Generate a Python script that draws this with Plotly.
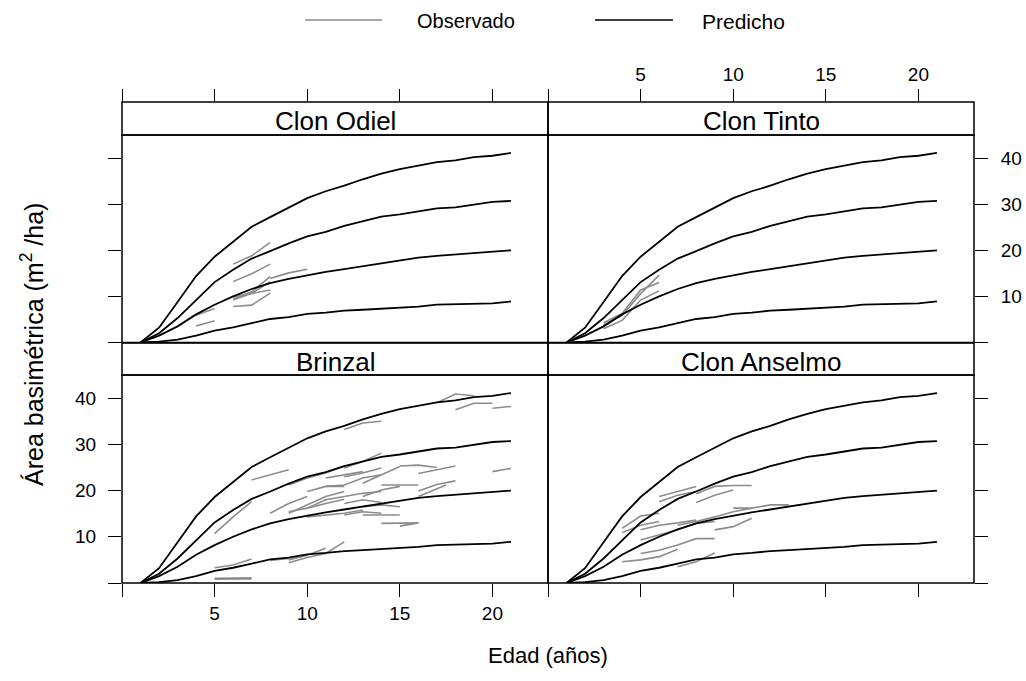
import plotly.graph_objects as go

W, H = 1026, 681
FONT = "Arial, Liberation Sans, sans-serif"

# Predicted basal-area curves (same family of curves in every panel)
edad = list(range(1, 22))
pred_alto = [0, 3.2, 8.8, 14.4, 18.6, 21.9, 25.1, 27.2, 29.3, 31.3, 32.8,
             34.0, 35.4, 36.6, 37.6, 38.3, 39.1, 39.5, 40.2, 40.5, 41.1]
pred_medio_alto = [0, 2.0, 5.3, 9.2, 13.1, 15.8, 18.2, 19.8, 21.5, 23.0, 24.0,
                   25.3, 26.3, 27.3, 27.8, 28.4, 29.1, 29.3, 29.9, 30.5, 30.7]
pred_medio = [0, 1.5, 3.5, 6.1, 8.2, 10.0, 11.6, 12.9, 13.8, 14.6, 15.3,
              15.9, 16.5, 17.2, 17.8, 18.4, 18.8, 19.1, 19.4, 19.7, 20.0]
pred_bajo = [0, 0.2, 0.6, 1.5, 2.6, 3.3, 4.2, 5.1, 5.5, 6.2, 6.5,
             6.9, 7.1, 7.3, 7.5, 7.8, 8.2, 8.3, 8.5, 8.5, 8.9]

# Observed plot trajectories: (ages, basal area) per plot
obs_odiel = [
    ([6, 7, 8], [17.0, 18.8, 21.7]),
    ([6, 7, 8], [13.2, 14.9, 17.0]),
    ([6, 7, 8], [9.4, 11.0, 14.3]),
    ([6, 7, 8], [9.9, 10.7, 11.4]),
    ([6, 7, 8], [7.8, 8.1, 10.7]),
    ([6, 7, 8], [9.2, 10.7, 13.2]),
    ([8, 9, 10], [13.9, 15.1, 15.9]),
    ([4, 5], [3.6, 4.7]),
    ([4, 5], [5.9, 7.4]),
]
obs_tinto = [
    ([3, 4, 5, 6], [4.3, 6.3, 11.4, 13.0]),
    ([3, 4, 5, 6], [3.0, 4.8, 9.2, 11.2]),
    ([3, 4, 5, 6], [3.8, 5.9, 10.6, 14.6]),
]
obs_brinzal = [
    ([5, 7], [1.0, 1.1]),
    ([5, 7], [0.8, 0.9]),
    ([5, 6, 7], [3.3, 3.9, 5.2]),
    ([9, 10, 11, 12], [4.4, 5.5, 6.4, 8.9]),
    ([9, 10, 11], [5.0, 6.0, 7.5]),
    ([8, 9], [4.9, 5.3]),
    ([5, 6, 7], [10.7, 14.3, 17.6]),
    ([7, 9], [22.3, 24.5]),
    ([12, 13, 14], [33.2, 34.6, 35.0]),
    ([17, 18, 19], [39.0, 40.9, 40.5]),
    ([18, 19, 20], [37.5, 38.9, 38.9]),
    ([20, 21], [37.8, 38.2]),
    ([16, 18], [23.7, 25.3]),
    ([16, 17, 18], [19.9, 21.3, 22.1]),
    ([20, 21], [24.1, 24.8]),
    ([15, 16, 17], [25.3, 25.5, 25.0]),
    ([14, 16], [21.2, 21.2]),
    ([14, 15, 16], [12.9, 13.0, 13.0]),
    ([15, 16], [12.3, 13.0]),
    ([16, 17.5], [18.7, 21.2]),
    ([9, 10, 11, 12], [21.2, 22.7, 23.8, 25.3]),
    ([9, 10, 11, 12], [15.1, 16.9, 18.7, 19.8]),
    ([8, 9, 10], [15.1, 17.2, 18.7]),
    ([9, 10, 11, 12], [15.4, 16.2, 17.2, 18.1]),
    ([10, 11, 12, 13], [14.3, 14.7, 15.1, 15.8]),
    ([10, 11, 12, 13, 14], [16.2, 18.0, 18.7, 19.4, 19.8]),
    ([11, 12, 13, 14], [20.9, 21.2, 22.7, 23.4]),
    ([12, 13, 14], [23.0, 23.8, 24.9]),
    ([12, 13, 14], [24.9, 26.3, 28.1]),
    ([13, 14, 15], [21.6, 23.4, 25.2]),
    ([13, 14, 15], [18.7, 20.1, 20.9]),
    ([12, 13, 14], [17.2, 18.0, 17.4]),
    ([13, 14, 15], [16.5, 16.9, 16.5]),
    ([12, 13, 14], [14.7, 15.4, 15.1]),
    ([13, 14, 15], [14.7, 14.7, 14.7]),
    ([10, 11, 12], [19.8, 20.9, 20.9]),
    ([11, 12, 13], [22.7, 23.4, 24.1]),
]
obs_anselmo = [
    ([6, 7, 8], [18.7, 19.8, 20.9]),
    ([6, 7, 8], [17.6, 19.0, 19.8]),
    ([8, 9, 10, 11], [19.3, 20.9, 21.1, 21.1]),
    ([8, 9, 10], [17.4, 19.0, 20.1]),
    ([4, 5, 6], [11.8, 14.5, 15.1]),
    ([4, 5, 6], [10.9, 12.5, 13.3]),
    ([5, 6, 7, 8], [11.5, 12.5, 13.0, 13.6]),
    ([5, 6, 7, 8, 9], [9.3, 10.4, 11.5, 12.9, 13.3]),
    ([7, 8, 9, 10, 11], [12.5, 13.3, 14.3, 15.4, 16.2]),
    ([10, 11, 12, 13], [16.2, 16.2, 16.9, 16.9]),
    ([9, 10, 11], [11.5, 12.2, 14.0]),
    ([4, 5, 6, 7], [4.6, 5.0, 5.7, 7.3]),
    ([5, 6, 7, 8, 9], [6.4, 7.1, 8.2, 9.6, 9.6]),
    ([7, 8, 9], [3.5, 4.6, 6.5]),
]

paneles = ["Clon Odiel", "Clon Tinto", "Brinzal", "Clon Anselmo"]
observados = [obs_odiel, obs_tinto, obs_brinzal, obs_anselmo]

x_ticks = [5, 10, 15, 20]
y_ticks = [10, 20, 30, 40]
origen = [0]

# Page geometry (pixels)
COL_X = [(122, 548), (548, 974)]
ROW_STRIP = [(102, 135), (343, 375)]
ROW_PLOT = [(135, 342.5), (375, 583)]


def px(x):
    return x / W


def py(y):
    return 1 - y / H


fig = go.Figure()

for i, (nombre, obs) in enumerate(zip(paneles, observados)):
    ax = "" if i == 0 else str(i + 1)
    xs, ys = [], []
    for a, v in obs:
        xs += list(a) + [None]
        ys += list(v) + [None]
    fig.add_trace(go.Scatter(x=xs, y=ys, mode="lines", xaxis="x" + ax, yaxis="y" + ax,
                             line=dict(color="#8c8c8c", width=1.6),
                             showlegend=False, hoverinfo="skip"))
    for curva in (pred_alto, pred_medio_alto, pred_medio, pred_bajo):
        fig.add_trace(go.Scatter(x=edad, y=curva, mode="lines", xaxis="x" + ax, yaxis="y" + ax,
                                 line=dict(color="black", width=1.8),
                                 showlegend=False, hoverinfo="skip"))

tick_font = dict(family=FONT, size=19, color="black")
tick_style = dict(ticks="outside", ticklen=13, tickwidth=1.3, tickcolor="black")
common_x = dict(range=[0, 23], tickmode="array", tickvals=x_ticks, showgrid=False,
                zeroline=False, showline=False, tickfont=tick_font,
                minor=dict(tickvals=origen, showgrid=False, **tick_style), **tick_style)
common_y = dict(range=[0, 45], tickmode="array", tickvals=y_ticks, showgrid=False,
                zeroline=False, showline=False, tickfont=tick_font,
                minor=dict(tickvals=origen, showgrid=False, **tick_style), **tick_style)

layout = dict(width=W, height=H, margin=dict(l=0, r=0, t=0, b=0),
              paper_bgcolor="white", plot_bgcolor="white", showlegend=False)

for i in range(4):
    r, c = divmod(i, 2)
    ax = "" if i == 0 else str(i + 1)
    xd = [px(COL_X[c][0]), px(COL_X[c][1])]
    yd = [py(ROW_PLOT[r][1]), py(ROW_PLOT[r][0])]
    xa = dict(common_x, domain=xd)
    ya = dict(common_y, domain=yd, anchor="x" + ax)
    if r == 0:
        xa.update(anchor="free", position=py(ROW_STRIP[0][0]), side="top",
                  showticklabels=(c == 1), ticklabelstandoff=0)
    else:
        xa.update(anchor="y" + ax, side="bottom", showticklabels=(c == 0),
                  ticklabelstandoff=0)
    if c == 0:
        ya.update(side="left", showticklabels=(r == 1), ticklabelstandoff=8)
    else:
        ya.update(side="right", showticklabels=(r == 0), ticklabelstandoff=9)
    layout["xaxis" + ax] = xa
    layout["yaxis" + ax] = ya

shapes = []
annotations = []
for i, nombre in enumerate(paneles):
    r, c = divmod(i, 2)
    x0, x1 = COL_X[c]
    for (y0, y1) in (ROW_STRIP[r], ROW_PLOT[r]):
        shapes.append(dict(type="rect", xref="paper", yref="paper",
                           x0=px(x0), x1=px(x1), y0=py(y1), y1=py(y0),
                           line=dict(color="black", width=1.5), layer="above"))
    annotations.append(dict(text=nombre, xref="paper", yref="paper",
                            x=px((x0 + x1) / 2), y=py((ROW_STRIP[r][0] + ROW_STRIP[r][1]) / 2 + 3),
                            xanchor="center", yanchor="middle", showarrow=False,
                            font=dict(family=FONT, size=26, color="black")))

# Key at the top
shapes.append(dict(type="line", xref="paper", yref="paper", x0=px(305), x1=px(382),
                   y0=py(20), y1=py(20), line=dict(color="#8c8c8c", width=1.6)))
shapes.append(dict(type="line", xref="paper", yref="paper", x0=px(595), x1=px(673),
                   y0=py(20), y1=py(20), line=dict(color="black", width=1.6)))
annotations.append(dict(text="Observado", xref="paper", yref="paper", x=px(466), y=py(21),
                        xanchor="center", yanchor="middle", showarrow=False,
                        font=dict(family=FONT, size=20, color="black")))
annotations.append(dict(text="Predicho", xref="paper", yref="paper", x=px(743), y=py(21),
                        xanchor="center", yanchor="middle", showarrow=False,
                        font=dict(family=FONT, size=21, color="black")))

# Axis titles
annotations.append(dict(text="Edad (años)", xref="paper", yref="paper", x=px(548), y=py(655),
                        xanchor="center", yanchor="middle", showarrow=False,
                        font=dict(family=FONT, size=22, color="black")))
annotations.append(dict(text="Área basimétrica (m<sup>2</sup> /ha)", xref="paper", yref="paper",
                        x=px(32), y=py(345), xanchor="center", yanchor="middle", textangle=-90,
                        showarrow=False, font=dict(family=FONT, size=25, color="black")))

layout["shapes"] = shapes
layout["annotations"] = annotations
fig.update_layout(**layout)

fig.write_html("out.html")
